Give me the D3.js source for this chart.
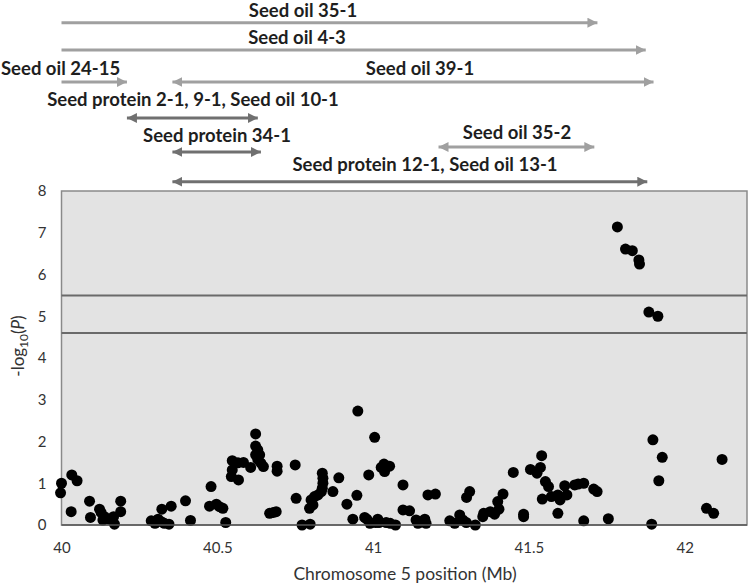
<!DOCTYPE html>
<html>
<head>
<meta charset="utf-8">
<script src="https://cdn.jsdelivr.net/npm/d3@7"></script>
<style>
  html, body { margin: 0; padding: 0; background: #ffffff; }
  svg { display: block; }
</style>
</head>
<body>
<svg id="chart" width="750" height="584"></svg>
<script>
// ---------------- DATA ----------------
const positionMb = [
  40.000, 39.997, 40.033, 40.050, 40.031, 40.090, 40.093, 40.122, 40.127, 40.138,
  40.133, 40.154, 40.167, 40.170, 40.190, 40.190, 40.288, 40.300, 40.310, 40.320,
  40.330, 40.345, 40.322, 40.352, 40.398, 40.414, 40.480, 40.475, 40.497, 40.507,
  40.518, 40.527, 40.548, 40.548, 40.545, 40.568, 40.566, 40.584, 40.607, 40.623,
  40.623, 40.630, 40.636, 40.623, 40.630, 40.640, 40.648, 40.668, 40.680, 40.689,
  40.692, 40.692, 40.750, 40.753, 40.772, 40.798, 40.796, 40.801, 40.812, 40.823,
  40.834, 40.837, 40.839, 40.839, 40.837, 40.807, 40.871, 40.890, 40.916, 40.935,
  40.948, 40.951, 40.973, 40.986, 40.980, 40.990, 41.005, 41.008, 41.015, 41.019,
  41.026, 41.035, 41.037, 41.053, 41.042, 41.055, 41.072, 41.096, 41.096, 41.117,
  41.138, 41.144, 41.155, 41.166, 41.170, 41.176, 41.200, 41.246, 41.262, 41.278,
  41.288, 41.299, 41.300, 41.310, 41.328, 41.352, 41.355, 41.376, 41.390, 41.404,
  41.400, 41.417, 41.450, 41.483, 41.483, 41.505, 41.526, 41.537, 41.541, 41.543,
  41.553, 41.563, 41.572, 41.593, 41.593, 41.600, 41.615, 41.622, 41.647, 41.658,
  41.676, 41.676, 41.708, 41.719, 41.755, 41.894, 41.898, 41.917, 41.928, 42.070,
  42.093, 42.120, 41.784, 41.810, 41.832, 41.853, 41.855, 41.885, 41.914
];
const negLog10P = [
  1.00, 0.77, 1.20, 1.06, 0.32, 0.57, 0.18, 0.38, 0.30, 0.20,
  0.12, 0.14, 0.20, 0.02, 0.57, 0.32, 0.10, 0.04, 0.14, 0.08,
  0.04, 0.02, 0.38, 0.45, 0.58, 0.11, 0.92, 0.45, 0.50, 0.44,
  0.40, 0.06, 1.54, 1.32, 1.16, 1.08, 1.49, 1.50, 1.38, 2.18,
  1.89, 1.80, 1.68, 1.68, 1.57, 1.48, 1.40, 0.28, 0.30, 0.32,
  1.41, 1.29, 1.44, 0.64, 0.00, 0.02, 0.40, 0.60, 0.68, 0.72,
  0.80, 1.24, 1.12, 1.00, 0.88, 0.48, 0.80, 1.13, 0.50, 0.14,
  0.71, 2.73, 0.18, 1.20, 0.14, 0.04, 2.10, 0.06, 0.14, 0.06,
  1.38, 1.46, 1.28, 1.41, 0.06, 0.04, 0.00, 0.96, 0.36, 0.34,
  0.12, 0.04, 0.08, 0.14, 0.04, 0.72, 0.74, 0.10, 0.04, 0.24,
  0.12, 0.06, 0.66, 0.80, 0.00, 0.20, 0.28, 0.32, 0.26, 0.38,
  0.56, 0.74, 1.26, 0.26, 0.20, 1.33, 1.24, 1.38, 1.66, 0.62,
  1.04, 0.92, 0.68, 0.28, 0.72, 0.60, 0.94, 0.72, 0.96, 0.98,
  1.00, 0.10, 0.86, 0.80, 0.15, 0.02, 2.04, 1.06, 1.62, 0.40,
  0.28, 1.57, 7.14, 6.61, 6.57, 6.35, 6.25, 5.10, 5.00
];
const thresholds = [5.5, 4.6];

const xTickValues = [40, 40.5, 41, 41.5, 42];
const xTickLabels = ["40", "40.5", "41", "41.5", "42"];
const yTickValues = [0, 1, 2, 3, 4, 5, 6, 7, 8];

// QTL interval arrows (Mb)
const qtlNames  = ["Seed oil 35-1", "Seed oil 4-3", "Seed oil 24-15", "Seed oil 39-1",
                   "Seed protein 2-1, 9-1, Seed oil 10-1", "Seed protein 34-1",
                   "Seed oil 35-2", "Seed protein 12-1, Seed oil 13-1"];
const qtlStart  = [40.00, 40.00, 40.00, 40.356, 40.21, 40.356, 41.21, 40.356];
const qtlEnd    = [41.72, 41.875, 40.21, 41.90, 40.63, 40.64, 41.71, 41.88];
const qtlBothHeads = [false, false, false, true, true, true, true, true];
const qtlKind   = ["oil", "oil", "oil", "oil", "protein", "protein", "oil", "protein"];

// ---------------- LAYOUT ----------------
const plot = { left: 61.5, right: 747, top: 191, bottom: 525 };
const arrowRowY   = [22.7, 50, 82, 82, 118, 152, 147, 181.7];
const labelX      = [303, 297, 1, 420, 193, 217, 517, 425];
const labelAnchor = ["middle", "middle", "start", "middle", "middle", "middle", "middle", "middle"];
const labelBaseY  = [16.5, 43.5, 75, 75, 106, 141.5, 139, 171];
const colors = { oil: "#a0a0a0", protein: "#707070", text: "#1e1e1e" };

const svg = d3.select("#chart");

const x = d3.scaleLinear().domain([40, 42.2]).range([plot.left, plot.right]);
const y = d3.scaleLinear().domain([0, 8]).range([plot.bottom, plot.top]);

// arrow markers
const defs = svg.append("defs");
["oil", "protein"].forEach(k => {
  defs.append("marker")
    .attr("id", "head-" + k)
    .attr("viewBox", "0 0 10 10")
    .attr("refX", 10).attr("refY", 5)
    .attr("markerUnits", "userSpaceOnUse")
    .attr("markerWidth", 10).attr("markerHeight", 10)
    .attr("orient", "auto-start-reverse")
    .append("path").attr("d", "M0,0 L10,5 L0,10 Z").attr("fill", colors[k]);
});

// plot background
svg.append("rect")
  .attr("x", plot.left).attr("y", plot.top)
  .attr("width", plot.right - plot.left).attr("height", plot.bottom - plot.top)
  .attr("fill", "#e3e3e3").attr("stroke", "#8a8a8a").attr("stroke-width", 1.5);

// threshold lines
svg.selectAll("line.thr").data(thresholds).enter().append("line")
  .attr("class", "thr")
  .attr("x1", plot.left).attr("x2", plot.right)
  .attr("y1", d => y(d)).attr("y2", d => y(d))
  .attr("stroke", "#6a6a6a").attr("stroke-width", 2);

// points
const pts = positionMb.map((p, i) => ({ p, v: negLog10P[i] }));
svg.append("g").selectAll("circle").data(pts).enter().append("circle")
  .attr("cx", d => x(d.p)).attr("cy", d => y(d.v)).attr("r", 5.5)
  .attr("fill", "#000");

// bottom axis line
svg.append("line")
  .attr("x1", plot.left).attr("x2", plot.right)
  .attr("y1", plot.bottom).attr("y2", plot.bottom)
  .attr("stroke", "#555").attr("stroke-width", 1.5);

const tickFont = "Lato, 'Open Sans', sans-serif";

// x axis
const xAxis = d3.axisBottom(x).tickValues(xTickValues)
  .tickFormat((d, i) => xTickLabels[i]).tickSize(0).tickPadding(17);
const gx = svg.append("g").attr("transform", `translate(0,${plot.bottom})`).call(xAxis);
gx.select(".domain").remove();
gx.selectAll("text").attr("font-family", tickFont).attr("font-size", 15).attr("fill", "#333");

// y axis
const yAxis = d3.axisLeft(y).tickValues(yTickValues).tickSize(0).tickPadding(15);
const gy = svg.append("g").attr("transform", `translate(${plot.left},0)`).call(yAxis);
gy.select(".domain").remove();
gy.selectAll("text").attr("font-family", tickFont).attr("font-size", 15).attr("fill", "#333");

// axis titles
svg.append("text")
  .attr("x", 405).attr("y", 580)
  .attr("text-anchor", "middle")
  .attr("font-family", tickFont).attr("font-size", 17.5).attr("fill", "#333")
  .text("Chromosome 5 position (Mb)");

const yl = svg.append("text")
  .attr("transform", "translate(24,346) rotate(-90)")
  .attr("text-anchor", "middle")
  .attr("font-family", tickFont).attr("font-size", 17).attr("fill", "#333");
yl.append("tspan").text("-log");
yl.append("tspan").attr("font-size", 12).attr("dy", 4).text("10");
yl.append("tspan").attr("dy", -4).text("(");
yl.append("tspan").attr("font-style", "italic").text("P");
yl.append("tspan").text(")");

// QTL arrows
const qtl = qtlNames.map((n, i) => ({ n, s: qtlStart[i], e: qtlEnd[i], both: qtlBothHeads[i], k: qtlKind[i], i }));
svg.append("g").selectAll("line").data(qtl).enter().append("line")
  .attr("x1", d => x(d.s)).attr("x2", d => x(d.e))
  .attr("y1", d => arrowRowY[d.i]).attr("y2", d => arrowRowY[d.i])
  .attr("stroke", d => colors[d.k]).attr("stroke-width", 3)
  .attr("marker-end", d => `url(#head-${d.k})`)
  .attr("marker-start", d => d.both ? `url(#head-${d.k})` : null);

svg.append("g").selectAll("text").data(qtl).enter().append("text")
  .attr("x", d => labelX[d.i]).attr("y", d => labelBaseY[d.i])
  .attr("text-anchor", d => labelAnchor[d.i])
  .attr("font-family", "Lato, sans-serif").attr("font-weight", "bold")
  .attr("font-size", 18.5).attr("fill", colors.text)
  .text(d => d.n);
</script>
</body>
</html>
